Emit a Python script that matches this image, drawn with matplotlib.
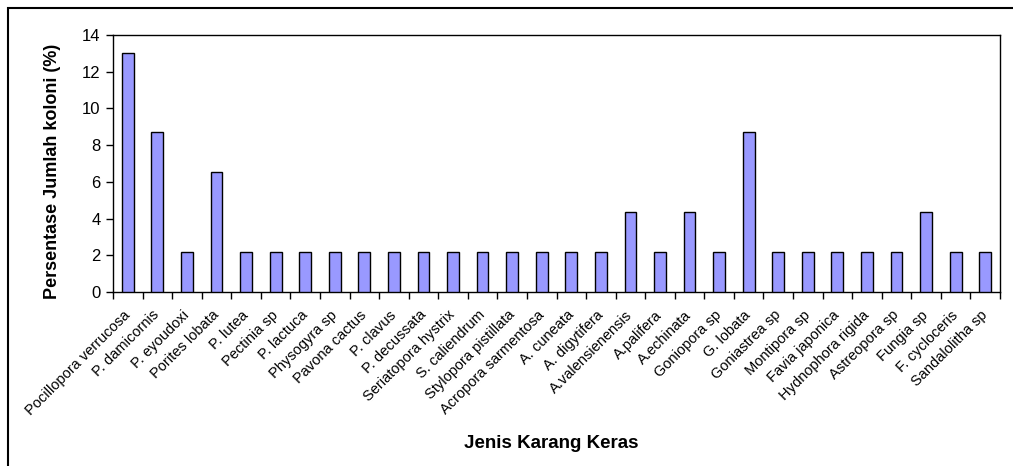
import matplotlib
matplotlib.use("Agg")
import matplotlib.pyplot as plt
from matplotlib.patches import Rectangle

categories = ["Pocillopora verrucosa", "P. damicornis", "P. eyoudoxi", "Porites lobata",
              "P. lutea", "Pectinia sp", "P. lactuca", "Physogyra sp", "Pavona cactus",
              "P. clavus", "P. decussata", "Seriatopora hystrix", "S. caliendrum",
              "Stylopora pistillata", "Acropora sarmentosa", "A. cuneata", "A. digytifera",
              "A.valensienensis", "A.palifera", "A.echinata", "Goniopora sp", "G. lobata",
              "Goniastrea sp", "Montipora sp", "Favia japonica", "Hydnophora rigida",
              "Astreopora sp", "Fungia sp", "F. cycloceris", "Sandalolitha sp"]
values = [13.04, 8.70, 2.17, 6.52,
          2.17, 2.17, 2.17, 2.17, 2.17,
          2.17, 2.17, 2.17, 2.17,
          2.17, 2.17, 2.17, 2.17,
          4.35, 2.17, 4.35, 2.17, 8.70,
          2.17, 2.17, 2.17, 2.17,
          2.17, 4.35, 2.17, 2.17]
yticks = [0, 2, 4, 6, 8, 10, 12, 14]

plt.rcParams['font.family'] = ['Liberation Sans', 'DejaVu Sans']

fig = plt.figure(figsize=(10.13, 4.66), dpi=100)
ax = fig.add_axes([113/1013, 1-292/466, (1000-113)/1013, (292-35)/466])

x = list(range(len(categories)))
ax.bar(x, values, width=0.4, color='#9999FF', edgecolor='black', linewidth=1.0, zorder=3)

ax.set_xlim(-0.5, len(categories) - 0.5)
ax.set_ylim(0, 14)
ax.set_yticks(yticks)
ax.set_yticklabels([str(v) for v in yticks], fontsize=12)
ax.tick_params(axis='y', direction='out', length=5, width=1, pad=4)

# category labels at bar centers, ticks at boundaries
ax.set_xticks(x)
ax.set_xticklabels(categories, rotation=45, ha='right', va='center',
                   rotation_mode='anchor', fontsize=10.5)
ax.tick_params(axis='x', which='major', length=0, pad=15)
ax.set_xticks([i - 0.5 for i in range(len(categories) + 1)], minor=True)
ax.tick_params(axis='x', which='minor', direction='out', length=5, width=1)

for s in ax.spines.values():
    s.set_linewidth(1.0)
    s.set_color('black')

ax.set_ylabel('Persentase Jumlah koloni (%)', fontsize=13, fontweight='bold')
ax.yaxis.set_label_coords((61 - 113) / (1000 - 113), (292 - 171) / (292 - 35))
fig.text(551/1013, 1-443/466, 'Jenis Karang Keras', ha='center', va='center',
         fontsize=13.5, fontweight='bold')

# outer chart border (cropped at right/bottom)
fig.patches.append(Rectangle((8/1013, -0.1), 1.2, 1.1 - 8/466, transform=fig.transFigure,
                             fill=False, edgecolor='black', linewidth=1.5))

fig.savefig('out.png', dpi=100)
